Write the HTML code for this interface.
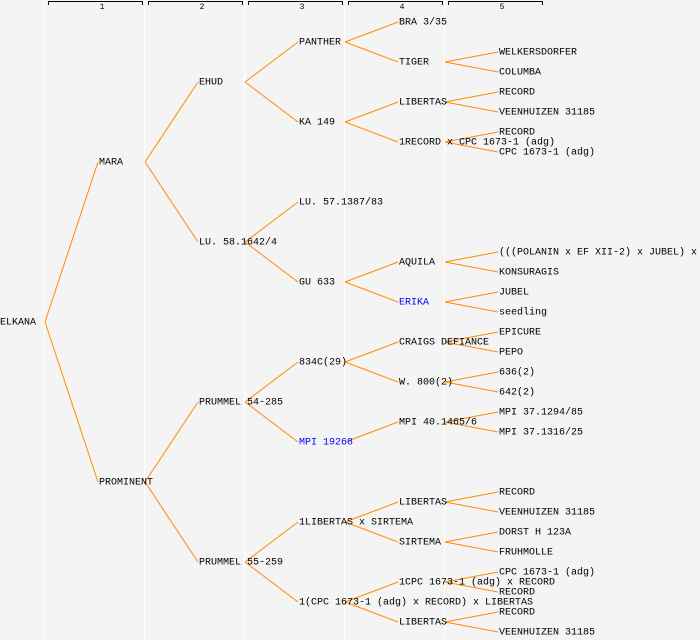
<!DOCTYPE html>
<html><head><meta charset="utf-8"><style>
html,body{margin:0;padding:0;background:#f4f4f4;}
svg{display:block;}
text{font-family:"Liberation Mono","DejaVu Sans Mono",monospace;font-size:10px;fill:#000;dominant-baseline:middle;}
.h{font-size:8px;text-anchor:middle;}
.b{fill:#0000ff;}
</style></head><body>
<svg width="700" height="640" xmlns="http://www.w3.org/2000/svg">
<rect width="700" height="640" fill="#f4f4f4"/>
<g stroke="#ffffff" stroke-width="1">
<line x1="44.5" y1="0" x2="44.5" y2="640"/>
<line x1="144.5" y1="0" x2="144.5" y2="640"/>
<line x1="244.5" y1="0" x2="244.5" y2="640"/>
<line x1="344.5" y1="0" x2="344.5" y2="640"/>
<line x1="444.5" y1="0" x2="444.5" y2="640"/>
</g>
<g stroke="#000" fill="none" stroke-width="1">
<path d="M48.5,5 V1.5 H142.5 V5"/>
<path d="M148.5,5 V1.5 H242.5 V5"/>
<path d="M248.5,5 V1.5 H342.5 V5"/>
<path d="M348.5,5 V1.5 H442.5 V5"/>
<path d="M448.5,5 V1.5 H542.5 V5"/>
</g>
<text class="h" x="102" y="7">1</text>
<text class="h" x="202" y="7">2</text>
<text class="h" x="302" y="7">3</text>
<text class="h" x="402" y="7">4</text>
<text class="h" x="502" y="7">5</text>
<g stroke="#ff8c00" stroke-width="1" fill="none">
<path d="M45,322 L98,162 M45,322 L98,482"/>
<path d="M145,162 L198,82 M145,162 L198,242 M145,482 L198,402 M145,482 L198,562"/>
<path d="M245,82 L298,42 M245,82 L298,122 M245,242 L298,202 M245,242 L298,282 M245,402 L298,362 M245,402 L298,442 M245,562 L298,522 M245,562 L298,602"/>
<path d="M345,42 L398,22 M345,42 L398,62 M345,122 L398,102 M345,122 L398,142 M345,282 L398,262 M345,282 L398,302 M345,362 L398,342 M345,362 L398,382 M345,442 L398,422 M345,522 L398,502 M345,522 L398,542 M345,602 L398,582 M345,602 L398,622"/>
<path d="M445,62 L498,52 M445,62 L498,72 M445,102 L498,92 M445,102 L498,112 M445,142 L498,132 M445,142 L498,152 M445,262 L498,252 M445,262 L498,272 M445,302 L498,292 M445,302 L498,312 M445,342 L498,332 M445,342 L498,352 M445,382 L498,372 M445,382 L498,392 M445,422 L498,412 M445,422 L498,432 M445,502 L498,492 M445,502 L498,512 M445,542 L498,532 M445,542 L498,552 M445,582 L498,572 M445,582 L498,592 M445,622 L498,612 M445,622 L498,632"/>
</g>
<text x="0" y="322">ELKANA</text>
<text x="99" y="162">MARA</text>
<text x="99" y="482">PROMINENT</text>
<text x="199" y="82">EHUD</text>
<text x="199" y="242">LU. 58.1642/4</text>
<text x="199" y="402">PRUMMEL 54-285</text>
<text x="199" y="562">PRUMMEL 55-259</text>
<text x="299" y="42">PANTHER</text>
<text x="299" y="122">KA 149</text>
<text x="299" y="202">LU. 57.1387/83</text>
<text x="299" y="282">GU 633</text>
<text x="299" y="362">834C(29)</text>
<text x="299" y="442" class="b">MPI 19268</text>
<text x="299" y="522">1LIBERTAS x SIRTEMA</text>
<text x="299" y="602">1(CPC 1673-1 (adg) x RECORD) x LIBERTAS</text>
<text x="399" y="22">BRA 3/35</text>
<text x="399" y="62">TIGER</text>
<text x="399" y="102">LIBERTAS</text>
<text x="399" y="142">1RECORD x CPC 1673-1 (adg)</text>
<text x="399" y="262">AQUILA</text>
<text x="399" y="302" class="b">ERIKA</text>
<text x="399" y="342">CRAIGS DEFIANCE</text>
<text x="399" y="382">W. 800(2)</text>
<text x="399" y="422">MPI 40.1465/6</text>
<text x="399" y="502">LIBERTAS</text>
<text x="399" y="542">SIRTEMA</text>
<text x="399" y="582">1CPC 1673-1 (adg) x RECORD</text>
<text x="399" y="622">LIBERTAS</text>
<text x="499" y="52">WELKERSDORFER</text>
<text x="499" y="72">COLUMBA</text>
<text x="499" y="92">RECORD</text>
<text x="499" y="112">VEENHUIZEN 31185</text>
<text x="499" y="132">RECORD</text>
<text x="499" y="152">CPC 1673-1 (adg)</text>
<text x="499" y="252">(((POLANIN x EF XII-2) x JUBEL) x</text>
<text x="499" y="272">KONSURAGIS</text>
<text x="499" y="292">JUBEL</text>
<text x="499" y="312">seedling</text>
<text x="499" y="332">EPICURE</text>
<text x="499" y="352">PEPO</text>
<text x="499" y="372">636(2)</text>
<text x="499" y="392">642(2)</text>
<text x="499" y="412">MPI 37.1294/85</text>
<text x="499" y="432">MPI 37.1316/25</text>
<text x="499" y="492">RECORD</text>
<text x="499" y="512">VEENHUIZEN 31185</text>
<text x="499" y="532">DORST H 123A</text>
<text x="499" y="552">FRUHMOLLE</text>
<text x="499" y="572">CPC 1673-1 (adg)</text>
<text x="499" y="592">RECORD</text>
<text x="499" y="612">RECORD</text>
<text x="499" y="632">VEENHUIZEN 31185</text>
</svg>
</body></html>
